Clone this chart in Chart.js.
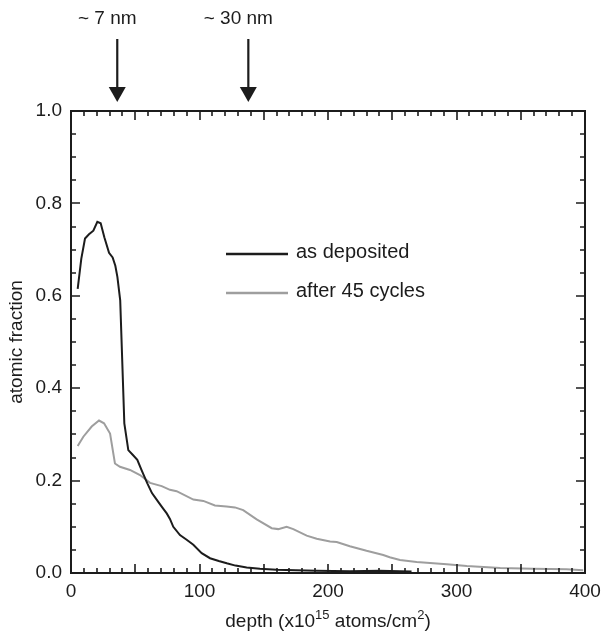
<!DOCTYPE html>
<html>
<head>
<meta charset="utf-8">
<script src="https://cdn.jsdelivr.net/npm/chart.js@4/dist/chart.umd.min.js"></script>
<style>
  html, body { margin: 0; padding: 0; background: #fff; }
  #wrap { width: 602px; height: 637px; position: relative; }
</style>
</head>
<body>
<div id="wrap"><canvas id="c"></canvas></div>
<script>
// ---- data ----
const depthDeposited = [5.2, 8, 10.9, 14, 17.4, 20.5, 23.1, 26, 29.6, 32.4, 34.5, 36.1, 38.3, 41.5, 44.6, 48, 51.6, 55, 59.4, 63, 67.9, 71, 74.5, 77, 79.6, 84.8, 90, 95.2, 101.7, 108.2, 115, 121.2, 128, 136.7, 147, 160, 175, 191, 217, 240, 256, 265];
const fracDeposited  = [0.615, 0.68, 0.724, 0.733, 0.741, 0.760, 0.757, 0.726, 0.693, 0.683, 0.665, 0.641, 0.59, 0.324, 0.266, 0.256, 0.245, 0.222, 0.194, 0.173, 0.154, 0.142, 0.129, 0.117, 0.100, 0.082, 0.072, 0.061, 0.043, 0.032, 0.026, 0.021, 0.016, 0.012, 0.009, 0.007, 0.006, 0.005, 0.004, 0.005, 0.004, 0.003];

const depthCycled = [5.2, 9.6, 16.1, 21.8, 25.7, 30.4, 34.2, 38.1, 45.9, 53.7, 61.5, 70.6, 77, 82.2, 95.2, 103, 112, 121, 127.6, 134, 144.5, 156.2, 161.3, 167.8, 173, 183.4, 191.2, 201.6, 206.8, 217, 230, 243, 248, 256, 269, 292.4, 308, 334, 359.6, 385.6, 398.6];
const fracCycled  = [0.275, 0.295, 0.317, 0.330, 0.324, 0.302, 0.237, 0.230, 0.223, 0.212, 0.195, 0.188, 0.180, 0.177, 0.159, 0.156, 0.146, 0.144, 0.142, 0.136, 0.116, 0.097, 0.095, 0.100, 0.095, 0.081, 0.074, 0.068, 0.067, 0.058, 0.048, 0.039, 0.034, 0.028, 0.024, 0.019, 0.015, 0.011, 0.009, 0.008, 0.006];

const seriesNames = ['as deposited', 'after 45 cycles'];
const arrowDepths = [36, 138];
const arrowLabels = ['~ 7 nm', '~ 30 nm'];
const xTitle = ['depth (x10', '15', ' atoms/cm', '2', ')'];
const yTitle = 'atomic fraction';

const FONT = '"Liberation Sans", Arial, Helvetica, sans-serif';
const INK = '#1c1c1c';
const GRAY = '#9e9e9e';

function toXY(xs, ys) { return xs.map((x, i) => ({ x: x, y: ys[i] })); }

const decorations = {
  id: 'decorations',
  afterDraw(chart) {
    const ctx = chart.ctx;
    const a = chart.chartArea;
    const xs = chart.scales.x, ys = chart.scales.y;
    ctx.save();
    ctx.strokeStyle = INK;
    ctx.fillStyle = INK;
    // frame
    ctx.lineWidth = 2;
    ctx.strokeRect(a.left, a.top, a.right - a.left, a.bottom - a.top);
    // x ticks (inward, top & bottom)
    ctx.lineWidth = 1.6;
    for (let v = 0; v <= 400; v += 10) {
      const px = Math.round(xs.getPixelForValue(v));
      const len = (v % 50 === 0) ? 9 : 5;
      ctx.beginPath();
      ctx.moveTo(px, a.bottom); ctx.lineTo(px, a.bottom - len);
      ctx.moveTo(px, a.top); ctx.lineTo(px, a.top + len);
      ctx.stroke();
    }
    // y ticks (inward, left & right)
    for (let i = 0; i <= 20; i++) {
      const v = i * 0.05;
      const py = Math.round(ys.getPixelForValue(v));
      const len = (i % 4 === 0) ? 9 : 5;
      ctx.beginPath();
      ctx.moveTo(a.left, py); ctx.lineTo(a.left + len, py);
      ctx.moveTo(a.right, py); ctx.lineTo(a.right - len, py);
      ctx.stroke();
    }
    // arrows and their labels
    ctx.lineWidth = 2.2;
    arrowDepths.forEach((d, i) => {
      const px = xs.getPixelForValue(d);
      ctx.beginPath();
      ctx.moveTo(px, 39); ctx.lineTo(px, 90);
      ctx.stroke();
      ctx.beginPath();
      ctx.moveTo(px - 8.5, 87); ctx.lineTo(px + 8.5, 87); ctx.lineTo(px, 102);
      ctx.closePath(); ctx.fill();
      ctx.font = '19px ' + FONT;
      ctx.textAlign = 'center';
      ctx.textBaseline = 'alphabetic';
      ctx.fillText(arrowLabels[i], px - 10, 24);
    });
    // legend
    const legendY = [254, 293];
    const colors = [INK, GRAY];
    ctx.lineWidth = 2.5;
    seriesNames.forEach((name, i) => {
      ctx.strokeStyle = colors[i];
      ctx.beginPath();
      ctx.moveTo(226, legendY[i]); ctx.lineTo(288, legendY[i]);
      ctx.stroke();
      ctx.fillStyle = INK;
      ctx.font = '20px ' + FONT;
      ctx.textAlign = 'left';
      ctx.textBaseline = 'middle';
      ctx.fillText(name, 296, legendY[i] - 2);
    });
    // y title
    ctx.fillStyle = INK;
    ctx.save();
    ctx.translate(17, (a.top + a.bottom) / 2);
    ctx.rotate(-Math.PI / 2);
    ctx.font = '19px ' + FONT;
    ctx.textAlign = 'center';
    ctx.textBaseline = 'middle';
    ctx.fillText(yTitle, 0, 0);
    ctx.restore();
    // x title with superscripts
    const big = '19px ' + FONT, small = '13px ' + FONT;
    const parts = xTitle.map((t, i) => ({ t: t, sup: i % 2 === 1 }));
    let total = 0;
    parts.forEach(p => { ctx.font = p.sup ? small : big; p.w = ctx.measureText(p.t).width; total += p.w; });
    let x = (a.left + a.right) / 2 - total / 2;
    const base = 627;
    ctx.textAlign = 'left';
    ctx.textBaseline = 'alphabetic';
    parts.forEach(p => {
      ctx.font = p.sup ? small : big;
      ctx.fillText(p.t, x, p.sup ? base - 8 : base);
      x += p.w;
    });
    ctx.restore();
  }
};

new Chart(document.getElementById('c'), {
  type: 'line',
  data: {
    datasets: [
      { label: seriesNames[0], data: toXY(depthDeposited, fracDeposited), borderColor: INK, borderWidth: 2, pointRadius: 0, tension: 0, fill: false },
      { label: seriesNames[1], data: toXY(depthCycled, fracCycled), borderColor: GRAY, borderWidth: 2, pointRadius: 0, tension: 0, fill: false }
    ]
  },
  options: {
    responsive: true,
    maintainAspectRatio: false,
    animation: false,
    layout: { padding: { top: 111, right: 17, left: 0, bottom: 0 } },
    plugins: { legend: { display: false }, tooltip: { enabled: false } },
    scales: {
      x: {
        type: 'linear', min: 0, max: 400,
        grid: { display: false, drawTicks: false },
        border: { display: false },
        ticks: { stepSize: 100, padding: 7, color: INK, font: { family: FONT, size: 19 }, maxRotation: 0 },
        afterFit(s) { s.height = 64; s.paddingLeft = 0; s.paddingRight = 0; }
      },
      y: {
        min: 0, max: 1,
        grid: { display: false, drawTicks: false },
        border: { display: false },
        ticks: { stepSize: 0.2, padding: 9, color: INK, font: { family: FONT, size: 19 }, callback: v => Number(v).toFixed(1) },
        afterFit(s) { s.width = 71; s.paddingTop = 0; s.paddingBottom = 0; }
      }
    }
  },
  plugins: [decorations]
});
</script>
</body>
</html>
